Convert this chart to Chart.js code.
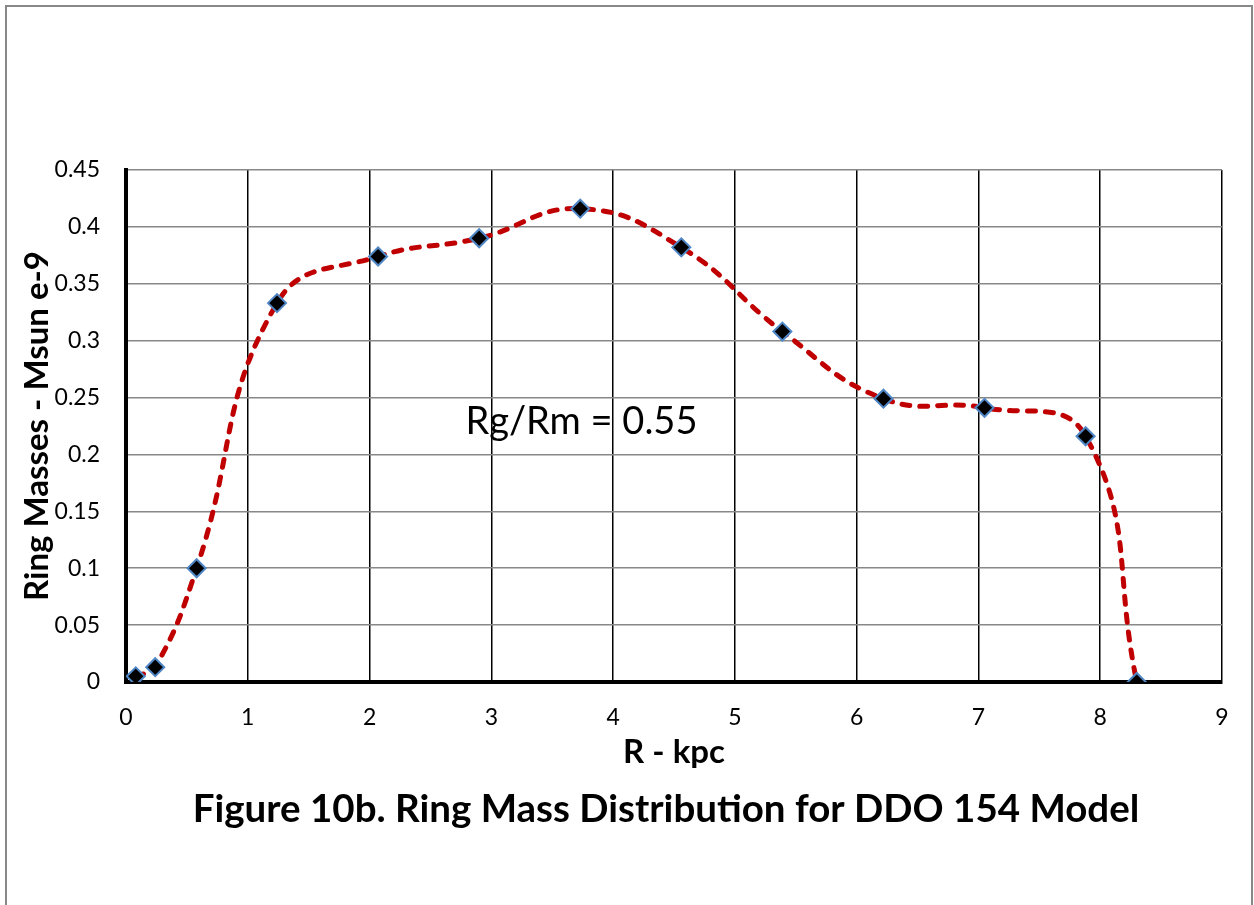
<!DOCTYPE html>
<html>
<head>
<meta charset="utf-8">
<script src="https://cdn.jsdelivr.net/npm/chart.js@4/dist/chart.umd.min.js"></script>
<style>
  html, body { margin: 0; padding: 0; background: #fff; }
  #wrap { width: 1254px; height: 905px; position: relative; }
</style>
</head>
<body>
<div id="wrap"><canvas id="c" width="1254" height="905"></canvas></div>
<script>
// ring radii (kpc) and ring masses (Msun e-9)
const radiusKpc = [0.08, 0.24, 0.58, 1.24, 2.07, 2.90, 3.73, 4.56, 5.39, 6.22, 7.05, 7.88, 8.30];
const ringMass = [0.005, 0.013, 0.100, 0.333, 0.374, 0.390, 0.416, 0.382, 0.308, 0.249, 0.241, 0.216, 0.000];

const xTicks = [0, 1, 2, 3, 4, 5, 6, 7, 8, 9];
const yTickLabels = ["0", "0.05", "0.1", "0.15", "0.2", "0.25", "0.3", "0.35", "0.4", "0.45"];

const xTitle = "R - kpc";
const yTitle = "Ring Masses - Msun e-9";
const caption = "Figure 10b. Ring Mass Distribution for DDO 154 Model";
const note = "Rg/Rm = 0.55";

const FONT = "Lato, 'Open Sans', sans-serif";

// frame + caption + annotation drawn on top of the chart
const extras = {
    id: 'extras',
    afterDraw(chart) {
        const ctx = chart.ctx;
        const xs = chart.scales.x, ys = chart.scales.y;
        ctx.save();
        // outer frame (open at the bottom, like the page crop)
        ctx.strokeStyle = '#888';
        ctx.lineWidth = 2;
        ctx.beginPath();
        ctx.moveTo(6, 905);
        ctx.lineTo(6, 6);
        ctx.lineTo(1252, 6);
        ctx.lineTo(1252, 905);
        ctx.stroke();

        ctx.fillStyle = '#000';
        ctx.textAlign = 'center';
        ctx.textBaseline = 'middle';
        ctx.font = "bold 38.5px " + FONT;
        ctx.fillText(caption, 666, 810);

        ctx.font = "38px " + FONT;
        ctx.fillText(note, xs.getPixelForValue(3.74), ys.getPixelForValue(0.229));
        ctx.restore();
    }
};

new Chart(document.getElementById('c'), {
    type: 'line',
    data: {
        datasets: [{
            data: radiusKpc.map((r, i) => ({x: r, y: ringMass[i]})),
            borderColor: '#C00000',
            borderWidth: 5,
            borderDash: [8, 10],
            borderCapStyle: 'round',
            tension: 0.45,
            fill: false,
            pointStyle: 'rectRot',
            pointRadius: 9,
            pointHoverRadius: 9,
            pointBackgroundColor: '#000',
            pointBorderColor: '#4F86C6',
            pointBorderWidth: 2
        }]
    },
    options: {
        responsive: false,
        animation: false,
        events: [],
        layout: { padding: { left: 0, top: 170, right: 32, bottom: 0 } },
        plugins: { legend: { display: false }, tooltip: { enabled: false } },
        scales: {
            x: {
                type: 'linear',
                min: 0,
                max: 9,
                afterFit: (s) => { s.height = 223; },
                afterBuildTicks: (s) => { s.ticks = xTicks.map(v => ({value: v})); },
                grid: { color: '#000', lineWidth: 1.5, drawTicks: false },
                border: { color: '#000', width: 4 },
                ticks: {
                    padding: 22,
                    color: '#000',
                    font: { family: FONT, size: 23 },
                    callback: (v) => String(v)
                },
                title: {
                    display: true,
                    text: xTitle,
                    color: '#000',
                    font: { family: FONT, size: 33, weight: 'bold' },
                    padding: { top: 0, bottom: 133 }
                }
            },
            y: {
                type: 'linear',
                min: 0,
                max: 0.45,
                afterFit: (s) => { s.width = 126; },
                afterBuildTicks: (s) => { s.ticks = yTickLabels.map(t => ({value: parseFloat(t)})); },
                grid: { color: '#888', lineWidth: 1.5, drawTicks: false },
                border: { color: '#000', width: 4 },
                ticks: {
                    padding: 26,
                    color: '#000',
                    font: { family: FONT, size: 23 },
                    callback: (v, i) => yTickLabels[i]
                },
                title: {
                    display: true,
                    text: yTitle,
                    color: '#000',
                    font: { family: FONT, size: 33, weight: 'bold' },
                    padding: { top: 18, bottom: 0 }
                }
            }
        }
    },
    plugins: [extras]
});
</script>
</body>
</html>
